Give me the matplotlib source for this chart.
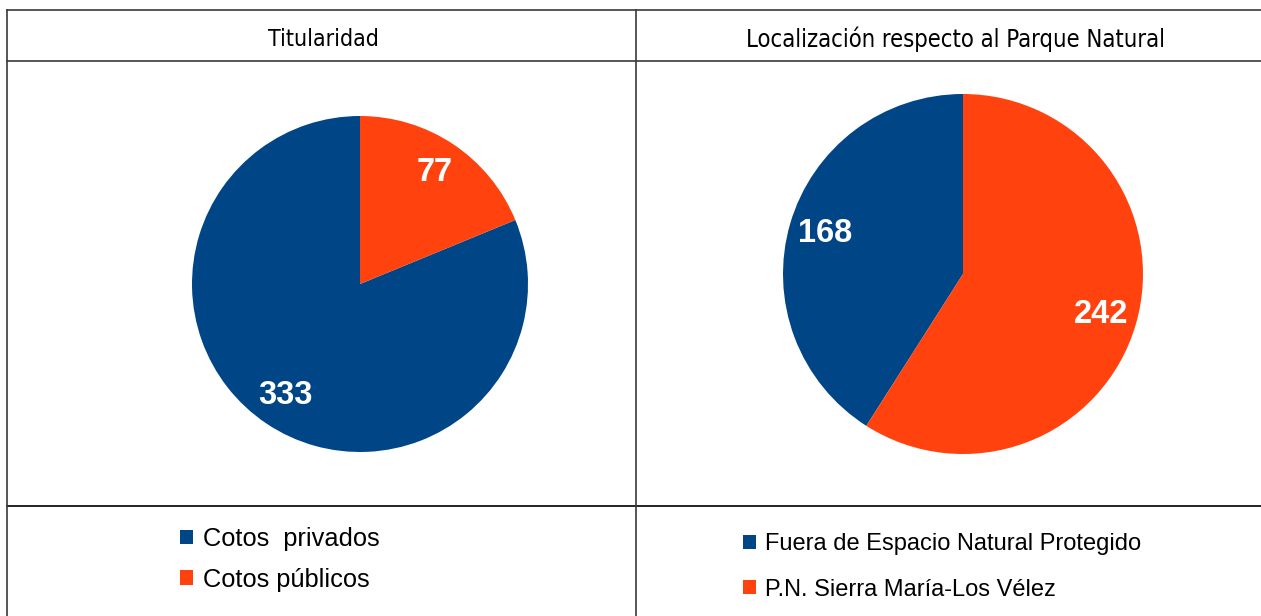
import matplotlib.pyplot as plt
from matplotlib.patches import Patch

# data
titles = ["Titularidad", "Localización respecto al Parque Natural"]
tit_labels = ["Cotos  privados", "Cotos públicos"]
tit_values = [333, 77]
loc_labels = ["Fuera de Espacio Natural Protegido", "P.N. Sierra María-Los Vélez"]
loc_values = [168, 242]
colors = ["#004586", "#ff420e"]

W, H = 1261, 616
fig = plt.figure(figsize=(W / 100, H / 100), dpi=100)

# table frame drawn in pixel coordinates
bg = fig.add_axes([0, 0, 1, 1])
bg.set_xlim(0, W)
bg.set_ylim(H, 0)
bg.axis("off")
line_kw = dict(color="#3a3a3a", lw=1.2)
bg.plot([7, W], [10, 10], **line_kw)
bg.plot([7, W], [61, 61], **line_kw)
bg.plot([7, W], [506, 506], color="black", lw=1.2)
bg.plot([7, 7], [10, H], **line_kw)
bg.plot([636, 636], [10, H], **line_kw)

bg.text(323, 39, titles[0], ha="center", va="center", fontsize=16.6,
        family="DejaVu Sans", fontstretch="condensed")
bg.text(955, 39, titles[1], ha="center", va="center", fontsize=17.1,
        family="DejaVu Sans", fontstretch="condensed")


def draw_pie(cx, cy, r, values):
    ax = fig.add_axes([(cx - r) / W, (H - cy - r) / H, 2 * r / W, 2 * r / H])
    wedges, _, autotexts = ax.pie(values, colors=colors, startangle=90,
                                  autopct=lambda p: f"{round(p * sum(values) / 100):d}",
                                  pctdistance=0.8, radius=1,
                                  textprops=dict(color="white", fontsize=23.5,
                                                 fontweight="bold",
                                                 family="Liberation Sans"))
    ax.set_xlim(-1, 1)
    ax.set_ylim(-1, 1)
    ax.set_aspect("equal")
    ax.axis("off")
    return wedges


draw_pie(360, 284, 168, tit_values)
draw_pie(963, 274, 180, loc_values)


def draw_legend(x, y, labels, size, spacing):
    handles = [Patch(facecolor=c, edgecolor="none") for c in colors]
    fig.legend(handles, labels, loc="upper left",
               bbox_to_anchor=(x / W, 1 - y / H), frameon=False,
               prop=dict(family="Liberation Sans", size=size),
               handlelength=13 / (size * 100 / 72), handleheight=13 / (size * 100 / 72),
               handletextpad=0.4, labelspacing=spacing,
               borderpad=0, borderaxespad=0)


draw_legend(180, 527, tit_labels, 18.3, 0.65)
draw_legend(743, 533, loc_labels, 17, 1.0)

fig.savefig("out.png", dpi=100)
